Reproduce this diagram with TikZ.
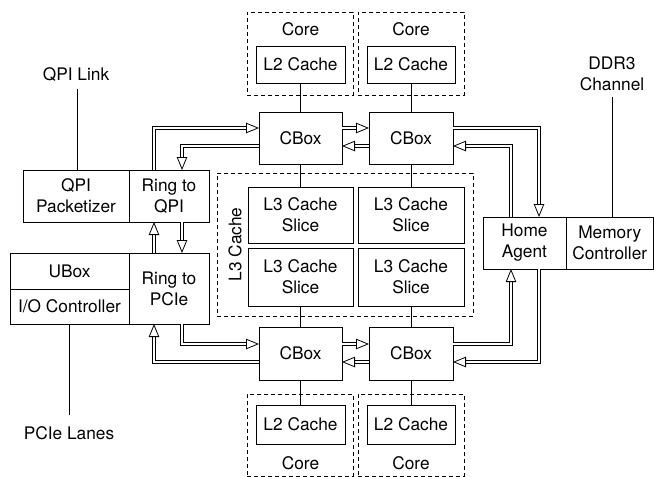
\documentclass[tikz,border=0pt]{standalone}
\usepackage{fontspec}
\setmainfont{TeX Gyre Heros}
\usetikzlibrary{arrows.meta}
\begin{document}
\begin{tikzpicture}[x=1pt,y=-1pt,
  every node/.style={font=\fontsize{17.3}{21}\selectfont},
  box/.style={draw, line width=0.8pt, inner sep=0pt, outer sep=0pt, align=center},
  dbox/.style={draw, line width=0.8pt, dash pattern=on 4pt off 3pt, inner sep=0pt, outer sep=0pt},
  lbl/.style={inner sep=0pt, align=center},
  wire/.style={line width=0.8pt},
  dbl/.style={double, double distance=2pt, line width=0.9pt, line join=miter,
    -{Triangle[open, length=13pt, width=10.5pt, line width=0.8pt]}}
]
\useasboundingbox (0,0) rectangle (654,477);
% coordinates for connector lanes
\coordinate (xa) at (154,0);
\coordinate (xb) at (182,0);
\coordinate (xc) at (511,0);
\coordinate (xd) at (539,0);
\coordinate (yt1) at (0,128);
\coordinate (yb1) at (0,146);
\coordinate (yt2) at (0,344);
\coordinate (yb2) at (0,362);
% cores top
\node[dbox, minimum width=106, minimum height=83] (core1) at (300,53.5) {};
\node[dbox, minimum width=106, minimum height=83] (core2) at (411,53.5) {};
\node[lbl] (corel1) at (300.5,29) {Core};
\node[lbl] (corel2) at (411,29) {Core};
\node[box, minimum width=89, minimum height=37] (l2a) at (300.5,64.5) {L2 Cache};
\node[box, minimum width=88, minimum height=37] (l2b) at (411,64.5) {L2 Cache};
% cbox top
\node[box, minimum width=83, minimum height=52] (cbox1) at (300.5,138) {CBox};
\node[box, minimum width=84, minimum height=52] (cbox2) at (411,138) {CBox};
% L3
\node[dbox, minimum width=256, minimum height=143] (l3) at (345,244.5) {};
\node[lbl, rotate=90] (l3l) at (235,244.5) {L3 Cache};
\node[box, minimum width=105, minimum height=56] (s1) at (300.5,215) {L3 Cache\\Slice};
\node[box, minimum width=106, minimum height=56] (s2) at (411,215) {L3 Cache\\Slice};
\node[box, minimum width=105, minimum height=58] (s3) at (300.5,277) {L3 Cache\\Slice};
\node[box, minimum width=106, minimum height=58] (s4) at (411,277) {L3 Cache\\Slice};
% cbox bottom
\node[box, minimum width=83, minimum height=53] (cbox3) at (300.5,353.5) {CBox};
\node[box, minimum width=84, minimum height=53] (cbox4) at (411,353.5) {CBox};
% cores bottom
\node[dbox, minimum width=106, minimum height=82] (core3) at (300,435) {};
\node[dbox, minimum width=106, minimum height=82] (core4) at (411,435) {};
\node[box, minimum width=89, minimum height=39] (l2c) at (300.5,424.5) {L2 Cache};
\node[box, minimum width=88, minimum height=39] (l2d) at (411,424.5) {L2 Cache};
\node[lbl] (corel3) at (300.5,463) {Core};
\node[lbl] (corel4) at (411,463) {Core};
% left blocks
\node[box, minimum width=106, minimum height=52] (qpip) at (76,196) {QPI\\Packetizer};
\node[box, minimum width=80, minimum height=52] (rqpi) at (169,196) {Ring to\\QPI};
\node[box, minimum width=119, minimum height=36] (ubox) at (69.5,271) {UBox};
\node[box, minimum width=119, minimum height=35] (ioc) at (69.5,306.5) {I/O Controller};
\node[box, minimum width=80, minimum height=71] (rpcie) at (169,288.5) {Ring to\\PCIe};
% right blocks
\node[box, minimum width=83, minimum height=52] (home) at (524.5,243) {Home\\Agent};
\node[box, minimum width=87.5, minimum height=52] (mem) at (609.75,243) {Memory\\Controller};
% external labels
\node[lbl] (qpil) at (76,75) {QPI Link};
\node[lbl] (pciel) at (69,433) {PCIe Lanes};
\node[lbl] (ddrl) at (612,74) {DDR3\\Channel};
\coordinate (qpiend) at (77,89);
\coordinate (pcieend) at (69,415);
\coordinate (ddrend) at (612,97);
\draw[wire] (qpiend) -- (qpip.north -| qpiend);
\draw[wire] (ioc.south -| pcieend) -- (pcieend);
\draw[wire] (ddrend) -- (mem.north -| ddrend);
% vertical wires
\draw[wire] (l2a) -- (cbox1);
\draw[wire] (l2b) -- (cbox2);
\draw[wire] (cbox1) -- (s1);
\draw[wire] (cbox2) -- (s2);
\draw[wire] (s3) -- (cbox3);
\draw[wire] (s4) -- (cbox4);
\draw[wire] (cbox3) -- (l2c);
\draw[wire] (cbox4) -- (l2d);
% ring connectors
\draw[dbl] (rqpi.north -| xa) |- (cbox1.west |- yt1);
\draw[dbl] (cbox1.west |- yb1) -| (rqpi.north -| xb);
\draw[dbl] (cbox1.east |- yt1) -- (cbox2.west |- yt1);
\draw[dbl] (cbox2.west |- yb1) -- (cbox1.east |- yb1);
\draw[dbl] (cbox2.east |- yt1) -| (home.north -| xd);
\draw[dbl] (home.north -| xc) |- (cbox2.east |- yb1);
\draw[dbl] (rpcie.north -| xa) -- (rqpi.south -| xa);
\draw[dbl] (rqpi.south -| xb) -- (rpcie.north -| xb);
\draw[dbl] (rpcie.south -| xb) |- (cbox3.west |- yt2);
\draw[dbl] (cbox3.west |- yb2) -| (rpcie.south -| xa);
\draw[dbl] (cbox3.east |- yt2) -- (cbox4.west |- yt2);
\draw[dbl] (cbox4.west |- yb2) -- (cbox3.east |- yb2);
\draw[dbl] (cbox4.east |- yt2) -| (home.south -| xc);
\draw[dbl] (home.south -| xd) |- (cbox4.east |- yb2);
\end{tikzpicture}
\end{document}
